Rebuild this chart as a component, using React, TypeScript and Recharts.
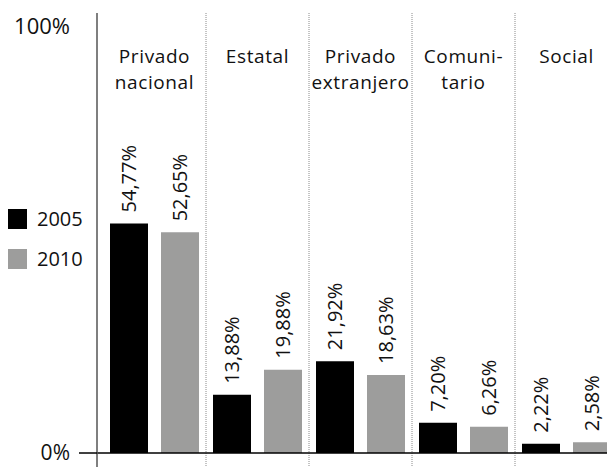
import { Bar, BarChart, LabelList, ReferenceLine, XAxis, YAxis } from "recharts";

const CATEGORIES = ["Privado nacional", "Estatal", "Privado extranjero", "Comuni- tario", "Social"];
const CATEGORY_LINES = [["Privado", "nacional"], ["Estatal"], ["Privado", "extranjero"], ["Comuni-", "tario"], ["Social"]];
const SERIES_NAMES = ["2005", "2010"];
const VALUES_2005 = [54.77, 13.88, 21.92, 7.2, 2.22];
const VALUES_2010 = [52.65, 19.88, 18.63, 6.26, 2.58];
const Y_TICKS = [0, 100];

const FONT = "'Open Sans', sans-serif";
const BLACK = "#000000";
const GREY = "#9d9d9c";
const SERIES_COLORS = [BLACK, GREY];

const data = CATEGORIES.map((name, i) => ({ name, v2005: VALUES_2005[i], v2010: VALUES_2010[i] }));

const fmt = (v: number) => v.toFixed(2).replace(".", ",") + "%";

function CategoryTick(props: any) {
  const { x, index } = props;
  const lines = CATEGORY_LINES[index] ?? [];
  return (
    <g>
      {lines.map((line, i) => (
        <text
          key={i}
          x={x}
          y={63 + i * 26}
          textAnchor="middle"
          fontFamily={FONT}
          fontSize={19}
          letterSpacing={0.6}
          fill="#111"
        >
          {line}
        </text>
      ))}
    </g>
  );
}

function PercentTick(props: any) {
  const { x, y, payload } = props;
  const isZero = payload.value === 0;
  return (
    <g>
      {isZero && <line x1={x - 18} x2={x} y1={y} y2={y} stroke={BLACK} strokeWidth={1.5} />}
      <text
        x={x - 27}
        y={isZero ? y - 1 : y - 9}
        textAnchor="end"
        dominantBaseline="central"
        fontFamily={FONT}
        fontSize={isZero ? 21 : 22}
        fill="#111"
      >
        {payload.value}%
      </text>
    </g>
  );
}

function ValueLabel(props: any) {
  const { x, y, width, value } = props;
  const cx = x + width / 2;
  const sy = y - 11;
  return (
    <text
      x={cx}
      y={sy}
      transform={`rotate(-90, ${cx}, ${sy})`}
      textAnchor="start"
      dominantBaseline="central"
      fontFamily={FONT}
      fontSize={20}
      fill="#111"
    >
      {fmt(value)}
    </text>
  );
}

function SideLegend() {
  return (
    <div style={{ position: "absolute", left: 8, top: 209, fontFamily: FONT, fontSize: 20, color: "#111", lineHeight: "20px" }}>
      {SERIES_NAMES.map((name, i) => (
        <div key={name} style={{ display: "flex", alignItems: "center", height: 20, marginBottom: 20 }}>
          <span style={{ width: 19, height: 20, background: SERIES_COLORS[i], display: "inline-block", marginRight: 10 }} />
          <span>{name}</span>
        </div>
      ))}
    </div>
  );
}

export default function App() {
  return (
    <div style={{ position: "fixed", left: 0, top: 0, width: 607, height: 467, overflow: "hidden", background: "#fff" }}>
      <BarChart
        width={620}
        height={467}
        data={data}
        margin={{ top: 12, right: 2, bottom: 0, left: 0 }}
        barCategoryGap={7}
        barGap={13}
      >
        <XAxis
          dataKey="name"
          orientation="top"
          height={1}
          axisLine={false}
          tickLine={false}
          tickSize={0}
          tickMargin={0}
          interval={0}
          padding={{ left: 6, right: 0 }}
          tick={<CategoryTick />}
        />
        <YAxis
          width={97}
          domain={[-3.34, 105]}
          ticks={Y_TICKS}
          allowDataOverflow
          axisLine={{ stroke: "#555", strokeWidth: 1.5 }}
          tickLine={false}
          tickSize={0}
          tickMargin={0}
          tick={<PercentTick />}
        />
        {CATEGORIES.slice(1).map((c) => (
          <ReferenceLine key={c} x={c} position="start" stroke="#8a8a8a" strokeDasharray="1 1" />
        ))}
        <ReferenceLine y={0} stroke={BLACK} strokeWidth={1.5} />
        <Bar dataKey="v2005" name={SERIES_NAMES[0]} fill={SERIES_COLORS[0]} isAnimationActive={false}>
          <LabelList dataKey="v2005" content={<ValueLabel />} />
        </Bar>
        <Bar dataKey="v2010" name={SERIES_NAMES[1]} fill={SERIES_COLORS[1]} isAnimationActive={false}>
          <LabelList dataKey="v2010" content={<ValueLabel />} />
        </Bar>
      </BarChart>
      <SideLegend />
    </div>
  );
}
